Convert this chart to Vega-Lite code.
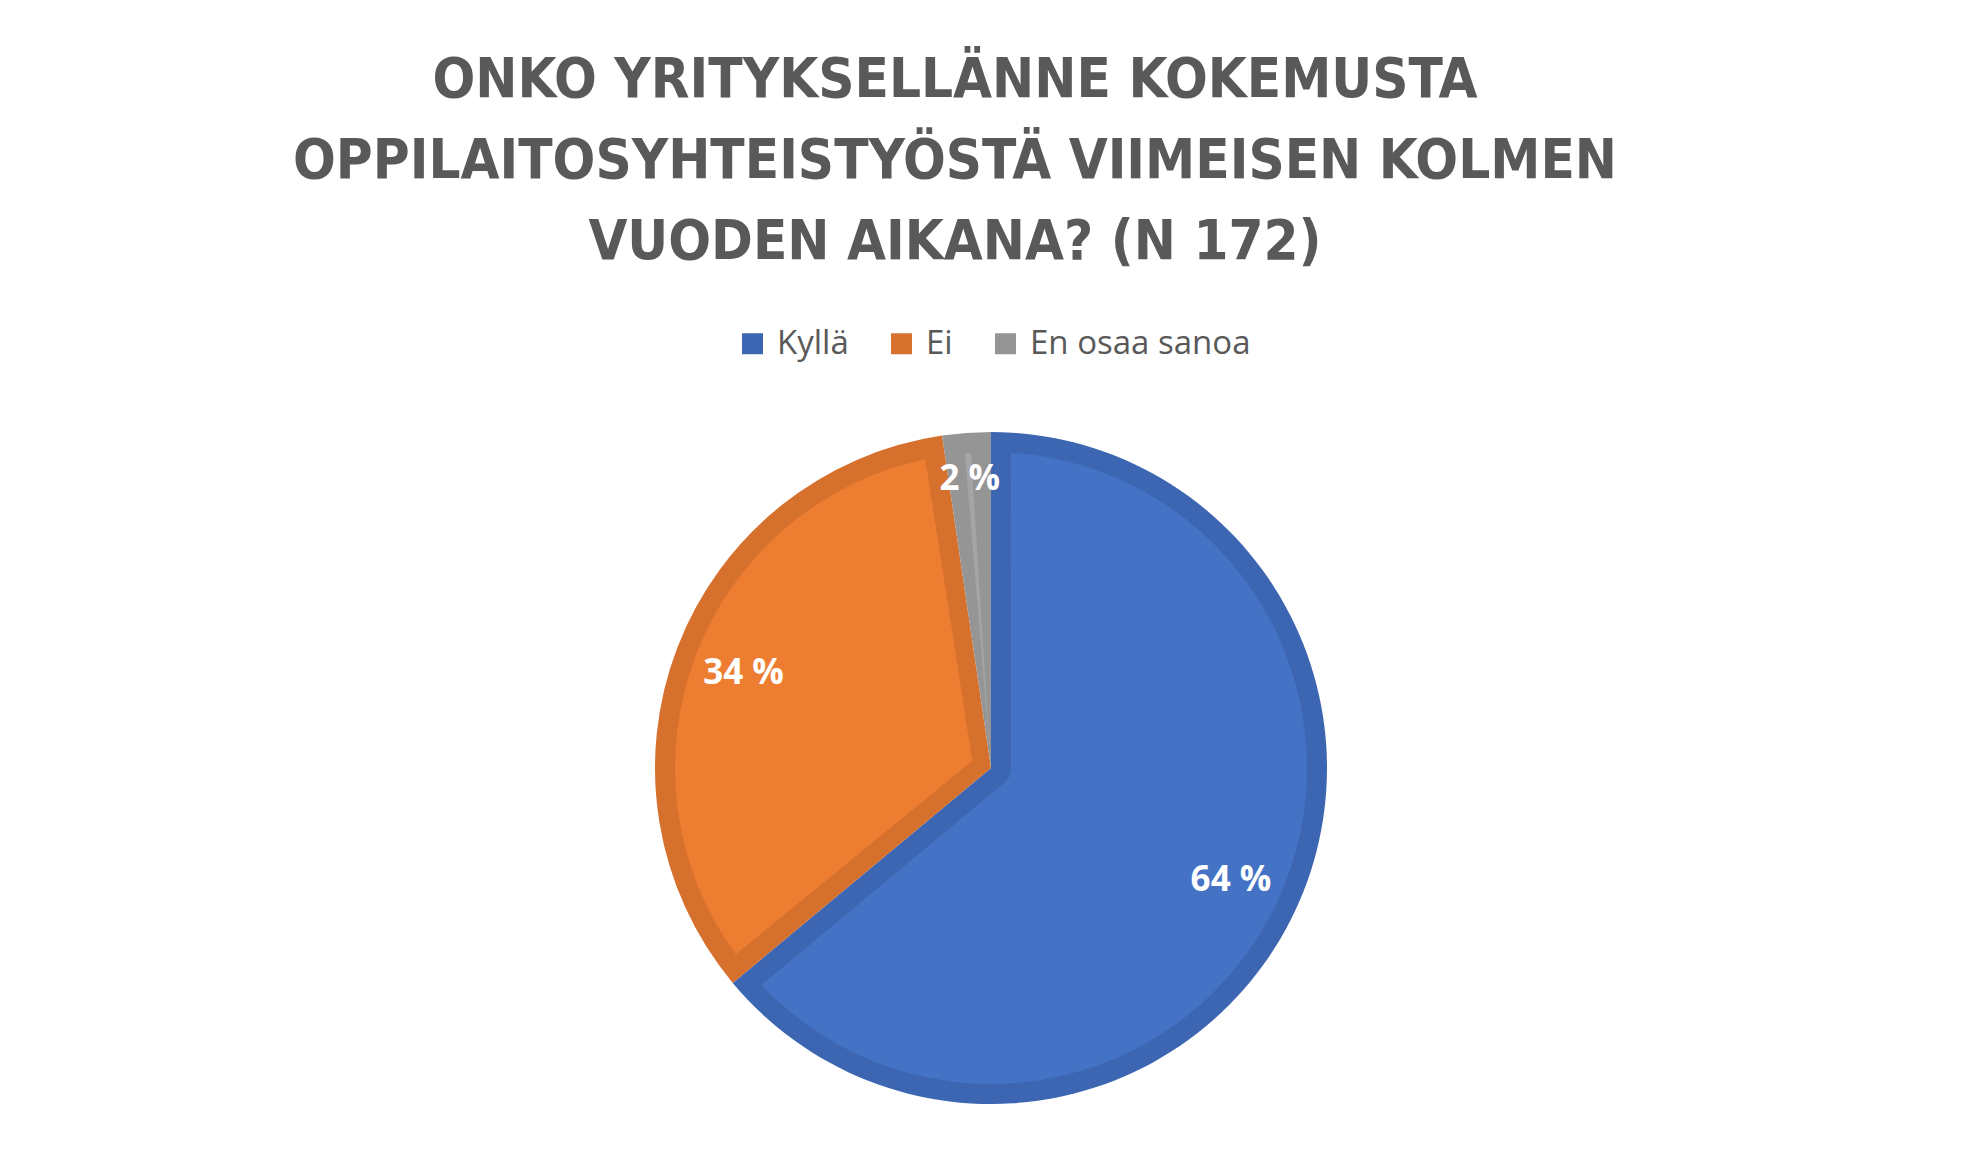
{
  "$schema": "https://vega.github.io/schema/vega-lite/v6.json",
  "width": 1982,
  "height": 778,
  "autosize": {"type": "none"},
  "padding": {"top": 379, "left": 0, "right": 0, "bottom": 0},
  "background": "white",
  "title": {
    "text": ["ONKO YRITYKSELLÄNNE KOKEMUSTA", "OPPILAITOSYHTEISTYÖSTÄ VIIMEISEN KOLMEN", "VUODEN AIKANA? (N 172)"],
    "font": "Liberation Sans Narrow, DejaVu Sans Condensed, sans-serif",
    "fontSize": 56,
    "fontWeight": "bold",
    "color": "#595959",
    "lineHeight": 81,
    "anchor": "middle",
    "frame": "group",
    "offset": 56,
    "dx": -36
  },
  "data": {
    "values": [
      {"vastaus": "Kyllä", "n": 110},
      {"vastaus": "Ei", "n": 58},
      {"vastaus": "En osaa sanoa", "n": 4}
    ]
  },
  "transform": [
    {"joinaggregate": [{"op": "sum", "field": "n", "as": "total"}]},
    {"calculate": "format(datum.n / datum.total * 100, '.0f') + ' %'", "as": "label"}
  ],
  "encoding": {
    "theta": {"field": "n", "type": "quantitative", "stack": true},
    "order": {"field": "n", "sort": "descending"}
  },
  "layer": [
    {
      "mark": {"type": "arc", "radius": 336},
      "encoding": {
        "color": {
          "field": "vastaus",
          "type": "nominal",
          "sort": ["Kyllä", "Ei", "En osaa sanoa"],
          "scale": {"domain": ["Kyllä", "Ei", "En osaa sanoa"], "range": ["#3C66B2", "#D6702D", "#959595"]},
          "legend": {
            "title": null,
            "orient": "none",
            "direction": "horizontal",
            "legendX": 736,
            "legendY": -52,
            "symbolType": "square",
            "symbolSize": 441,
            "symbolStrokeWidth": 0,
            "labelFont": "Open Sans",
            "labelFontSize": 33,
            "labelColor": "#595959",
            "labelLimit": 500,
            "labelOffset": 8,
            "columnPadding": 36
          }
        }
      }
    },
    {
      "mark": {"type": "arc", "radius": 316, "radius2": 20, "padAngle": 0.1265},
      "encoding": {
        "fill": {
          "field": "vastaus",
          "type": "nominal",
          "sort": ["Kyllä", "Ei", "En osaa sanoa"],
          "scale": {"domain": ["Kyllä", "Ei", "En osaa sanoa"], "range": ["#4472C4", "#ED7D31", "#A5A5A5"]},
          "legend": null
        }
      }
    },
    {
      "mark": {"type": "text", "radius": 265, "fill": "white", "font": "Open Sans", "fontWeight": "bold", "fontSize": 35},
      "encoding": {"text": {"condition": {"test": "datum.n > 10", "field": "label"}, "value": ""}}
    },
    {
      "mark": {"type": "text", "radius": 290, "fill": "white", "font": "Open Sans", "fontWeight": "bold", "fontSize": 35},
      "encoding": {"text": {"condition": {"test": "datum.n <= 10", "field": "label"}, "value": ""}}
    }
  ]
}
